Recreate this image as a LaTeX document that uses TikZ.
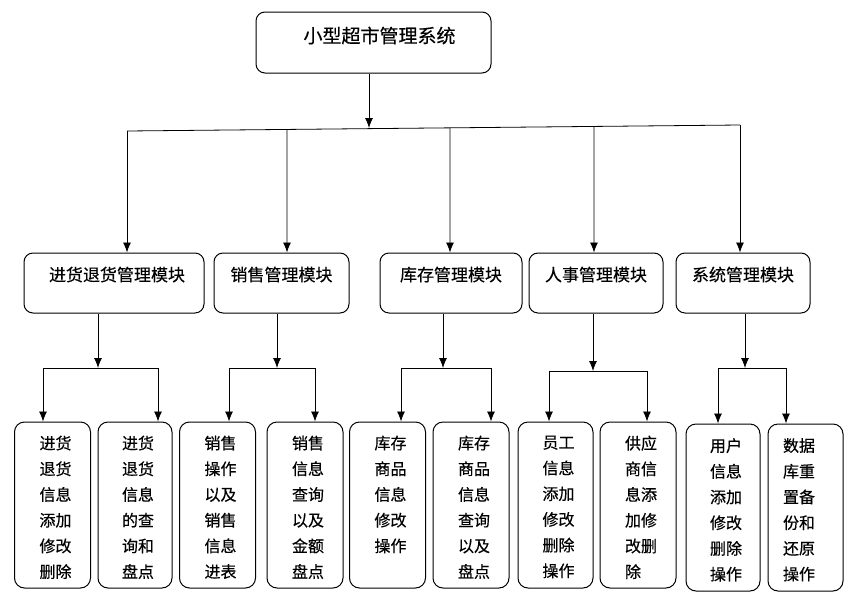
\documentclass[tikz,border=0pt]{standalone}
\usepackage{fontspec}
\setmainfont{Noto Sans CJK SC}[FakeBold=0.4]
\usetikzlibrary{arrows.meta,calc}

\begin{document}
\begin{tikzpicture}[x=1pt, y=-1pt,
  box/.style={draw, line width=1pt, rounded corners=9pt, minimum width=134pt, minimum height=60pt},
  leafbox/.style={draw, line width=1pt, rounded corners=10pt, minimum width=76pt, minimum height=166pt},
  boxtext/.style={anchor=north, inner sep=0pt, yshift=-14pt, font=\fontsize{17pt}{17pt}\selectfont},
  leaftext/.style={boxtext, align=left, xshift=3pt, font=\fontsize{16pt}{25.7pt}\selectfont},
  line/.style={line width=0.8pt},
  arr/.style={line, -{Latex[length=10pt,width=8pt]}}]
\useasboundingbox (0,0) rectangle (847,598);

\node[box, minimum width=235pt, minimum height=61pt, label={[boxtext, xshift=6pt, yshift=-1pt, font=\fontsize{19pt}{19pt}\selectfont]north:小型超市管理系统}] (node_top) at (373.5,42.5) {};

\node[box, minimum width=180pt, label={[boxtext, xshift=3pt]north:进货退货管理模块}] (node_m1) at (114,283) {};
\node[box, minimum width=135pt, label={[boxtext]north:销售管理模块}] (node_m2) at (281.5,283) {};
\node[box, minimum width=142pt, label={[boxtext]north:库存管理模块}] (node_m3) at (451,283) {};
\node[box, label={[boxtext]north:人事管理模块}] (node_m4) at (596,283) {};
\node[box, label={[boxtext]north:系统管理模块}] (node_m5) at (743,283) {};

\node[leafbox, label={[leaftext]north:进货\\退货\\信息\\添加\\修改\\删除}] (node_l1) at (52.5,505) {};
\node[leafbox, minimum width=74pt, label={[leaftext]north:进货\\退货\\信息\\的查\\询和\\盘点}] (node_l2) at (135,505) {};
\node[leafbox, label={[leaftext]north:销售\\操作\\以及\\销售\\信息\\进表}] (node_l3) at (217.5,505) {};
\node[leafbox, label={[leaftext]north:销售\\信息\\查询\\以及\\金额\\盘点}] (node_l4) at (305,505) {};
\node[leafbox, label={[leaftext]north:库存\\商品\\信息\\修改\\操作}] (node_l5) at (387.5,505) {};
\node[leafbox, label={[leaftext]north:库存\\商品\\信息\\查询\\以及\\盘点}] (node_l6) at (471,505) {};
\node[leafbox, minimum width=75pt, label={[leaftext]north:员工\\信息\\添加\\修改\\删除\\操作}] (node_l7) at (555.5,505) {};
\node[leafbox, label={[leaftext]north:供应\\商信\\息添\\加修\\改删\\除}] (node_l8) at (638,505) {};
\node[leafbox, minimum width=74pt, minimum height=167pt, label={[leaftext, yshift=-0.5pt]north:用户\\信息\\添加\\修改\\删除\\操作}] (node_l9) at (723,507.5) {};
\node[leafbox, minimum width=75pt, minimum height=167pt, label={[leaftext, xshift=-9.5pt, yshift=-0.5pt]north:数据\\库重\\置备\\份和\\还原\\操作}] (node_l10) at (805.5,507.5) {};

% main bus
\coordinate (bus_top) at (369,128);
\coordinate (bus_l) at (127,131);
\coordinate (bus_r) at (740,125);
\draw[arr] (bus_top |- node_top.south) -- (bus_top);
\draw[line] (bus_l) -- (bus_r);
\foreach \m/\x in {1/127, 2/287, 3/450, 4/594, 5/740}
  \draw[arr] ($(bus_l)!{(\x-127)/613}!(bus_r)$) -- (node_m\m.north -| \x,0);

% module buses
\foreach \m/\d/\y/\a/\b/\p/\q in {1/98/368/43/158/1/2, 2/277/368/229/315/3/4, 3/443/368/401/491/5/6, 4/593/371/549/647/7/8, 5/745/368/718/786/9/10} {
  \coordinate (sub_l\m) at (\a,\y);
  \coordinate (sub_r\m) at (\b,\y);
  \draw[arr] (node_m\m.south -| \d,0) -- (\d,\y);
  \draw[line] (sub_l\m) -- (sub_r\m);
  \draw[arr] (sub_l\m) -- (node_l\p.north -| sub_l\m);
  \draw[arr] (sub_r\m) -- (node_l\q.north -| sub_r\m);
}

\end{tikzpicture}
\end{document}
